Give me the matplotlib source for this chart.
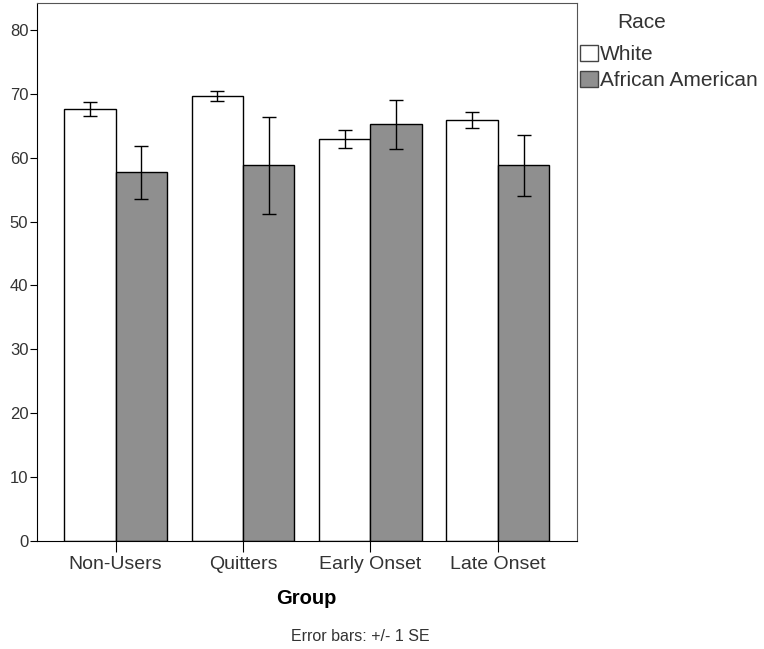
import numpy as np
import matplotlib.pyplot as plt
from matplotlib.patches import Patch

plt.rcParams['font.family'] = ['Liberation Sans', 'DejaVu Sans']

groups = ['Non-Users', 'Quitters', 'Early Onset', 'Late Onset']
white = [67.6, 69.7, 62.9, 65.9]
white_se = [1.1, 0.8, 1.35, 1.25]
african_american = [57.7, 58.8, 65.2, 58.8]
african_american_se = [4.1, 7.6, 3.85, 4.8]

fig = plt.figure(figsize=(7.64, 6.49), dpi=100)
ax = fig.add_axes([0.048, 0.1664, 0.707, 0.829])

x = np.arange(len(groups))
w = 0.403
ax.bar(x - w / 2, white, w, color='white', edgecolor='black', linewidth=1,
       yerr=white_se, error_kw=dict(ecolor='black', elinewidth=1, capsize=5, capthick=1))
ax.bar(x + w / 2, african_american, w, color='#8f8f8f', edgecolor='black', linewidth=1,
       yerr=african_american_se, error_kw=dict(ecolor='black', elinewidth=1, capsize=5, capthick=1))

ax.set_xlim(-0.62, 3.62)
ax.set_ylim(0, 84.2)
ax.set_yticks(range(0, 81, 10))
ax.set_xticks(x)
ax.set_xticklabels(groups)
ax.tick_params(axis='y', length=5, labelsize=12, labelcolor='#333333', pad=1)
ax.tick_params(axis='x', length=8, labelsize=14, labelcolor='#333333', pad=3)
for s in ax.spines.values():
    s.set_color('#555555')
ax.spines['left'].set_color('black')
ax.spines['bottom'].set_color('black')

ax.set_xlabel('Group', fontsize=14.5, fontweight='bold', labelpad=11)
fig.text(0.472, 0.013, 'Error bars: +/- 1 SE', ha='center', fontsize=11.5, color='#333333')

# legend title sits on its own, a bit left of the legend centre like in SPSS
fig.text(0.840, 1 - 22 / 649, 'Race', ha='center', va='center', fontsize=15, color='#333333')
handles = [Patch(facecolor='white', edgecolor='#444444'),
           Patch(facecolor='#8f8f8f', edgecolor='#444444')]
leg = fig.legend(handles, ['White', 'African American'],
                 loc='upper left', bbox_to_anchor=(0.759, 0.931), frameon=False,
                 fontsize=15, handlelength=0.85, handleheight=0.85,
                 handletextpad=0.1, labelspacing=0.3, borderpad=0, borderaxespad=0)
for t in leg.get_texts():
    t.set_color('#333333')

fig.savefig('out.png', dpi=100)
